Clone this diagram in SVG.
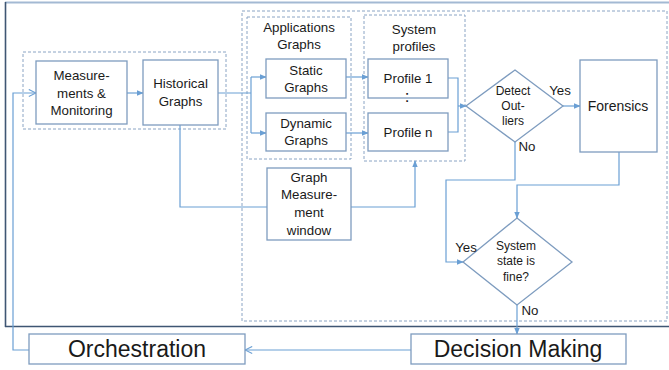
<svg xmlns="http://www.w3.org/2000/svg" width="669" height="370" viewBox="0 0 669 370">
<style>
.box{fill:#fff;stroke:#7e9cbf;stroke-width:1.3}
.dash{fill:none;stroke:#8aa4c4;stroke-width:1;stroke-dasharray:3 2}
.con{fill:none;stroke:#6a9fd4;stroke-width:1.2}
.t{font-family:"Liberation Sans",Arial,sans-serif;font-size:13.3px;fill:#1a1a1a;text-anchor:middle}
.d{font-size:12px}
.big{font-size:23px}
</style>
<defs>
<marker id="ar" viewBox="0 0 10 10" refX="9" refY="5" markerWidth="7" markerHeight="7" markerUnits="userSpaceOnUse" orient="auto">
<path d="M0,1 L10,5 L0,9 z" fill="#6a9fd4"/>
</marker>
<marker id="open" viewBox="0 0 10 10" refX="9" refY="5" markerWidth="9" markerHeight="9" markerUnits="userSpaceOnUse" orient="auto">
<path d="M1,1 L9,5 L1,9" fill="none" stroke="#6a9fd4" stroke-width="1.2"/>
</marker>
</defs>
<rect width="669" height="370" fill="#fff"/>
<g id="frame">
<line x1="5" y1="2.5" x2="669" y2="2.5" stroke="#a3b9d3" stroke-width="2"/>
<line x1="5.5" y1="2" x2="5.5" y2="327" stroke="#3f5673" stroke-width="1.6"/>
<line x1="5" y1="326.5" x2="669" y2="326.5" stroke="#3f5673" stroke-width="1.6"/>
<rect class="dash" x="23" y="52" width="203" height="77"/>
<rect class="dash" x="242" y="11" width="425" height="310"/>
<rect class="dash" x="247" y="17" width="104" height="142"/>
<rect class="dash" x="364" y="15" width="101" height="146"/>
</g>
<g id="connectors">
<path class="con" d="M29,350 H13 V93 H36" marker-end="url(#open)"/>
<path class="con" d="M127,93 H143" marker-end="url(#ar)"/>
<path class="con" d="M218,93 H251"/>
<path class="con" d="M251,77 V133"/>
<path class="con" d="M251,77 H266" marker-end="url(#ar)"/>
<path class="con" d="M251,133 H266" marker-end="url(#ar)"/>
<path class="con" d="M346,77 H368" marker-end="url(#ar)"/>
<path class="con" d="M346,133 H368" marker-end="url(#ar)"/>
<path class="con" d="M448,78 H458 V132 H448"/>
<path class="con" d="M458,106 H466" marker-end="url(#ar)"/>
<path class="con" d="M563,106 H580" marker-end="url(#ar)"/>
<path class="con" d="M180,125 V207 H267"/>
<path class="con" d="M351,207 H415 V161" marker-end="url(#ar)"/>
<path class="con" d="M619,152 V185 H517 V218" marker-end="url(#ar)"/>
<path class="con" d="M515,142 V180 H446 V262 H463" marker-end="url(#ar)"/>
<path class="con" d="M517,305 V334" marker-end="url(#ar)"/>
<path class="con" d="M411,350 H245" marker-end="url(#open)"/>
</g>
<g id="measurements">
<rect class="box" x="36" y="61" width="91" height="63"/>
<text class="t" x="81.5" y="80">Measure-</text>
<text class="t" x="81.5" y="98">ments &amp;</text>
<text class="t" x="81.5" y="115">Monitoring</text>
</g>
<g id="historical">
<rect class="box" x="143" y="60" width="75" height="65"/>
<text class="t" x="180.5" y="88">Historical</text>
<text class="t" x="180.5" y="106">Graphs</text>
</g>
<g id="appgraphs">
<text class="t" x="299" y="32">Applications</text>
<text class="t" x="299" y="49">Graphs</text>
</g>
<g id="static">
<rect class="box" x="266" y="59" width="80" height="39"/>
<text class="t" x="306" y="75">Static</text>
<text class="t" x="306" y="92">Graphs</text>
</g>
<g id="dynamic">
<rect class="box" x="266" y="113" width="80" height="38"/>
<text class="t" x="306" y="128">Dynamic</text>
<text class="t" x="306" y="145">Graphs</text>
</g>
<g id="sysprofiles">
<text class="t" x="414" y="34">System</text>
<text class="t" x="414" y="51">profiles</text>
</g>
<g id="profile1">
<rect class="box" x="368" y="59" width="80" height="39"/>
<text class="t" x="408" y="83">Profile 1</text>
<text class="t" x="407" y="102" style="font-size:17px">:</text>
</g>
<g id="profilen">
<rect class="box" x="368" y="113" width="80" height="38"/>
<text class="t" x="408" y="137">Profile n</text>
</g>
<g id="gmw">
<rect class="box" x="267" y="168" width="84" height="72"/>
<text class="t" x="309" y="182">Graph</text>
<text class="t" x="309" y="199">Measure-</text>
<text class="t" x="309" y="217">ment</text>
<text class="t" x="309" y="235">window</text>
</g>
<g id="detect">
<polygon class="box" points="515,70 563,106 515,142 466,106"/>
<text class="t d" x="513" y="95">Detect</text>
<text class="t d" x="513" y="110">Out-</text>
<text class="t d" x="513" y="125">liers</text>
<text class="t" x="560" y="95">Yes</text>
<text class="t" x="527" y="151">No</text>
</g>
<g id="forensics">
<rect class="box" x="580" y="60" width="77" height="92"/>
<text class="t" x="618" y="111" style="font-size:14px">Forensics</text>
</g>
<g id="statefine">
<polygon class="box" points="517,218 572,262 517,305 463,262"/>
<text class="t d" x="516" y="250">System</text>
<text class="t d" x="516" y="265">state is</text>
<text class="t d" x="516" y="281">fine?</text>
<text class="t" x="466" y="252">Yes</text>
<text class="t" x="530" y="315">No</text>
</g>
<g id="orchestration">
<rect class="box" x="29" y="334" width="216" height="30"/>
<text class="t big" x="137" y="357">Orchestration</text>
</g>
<g id="decision">
<rect class="box" x="411" y="334" width="215" height="30"/>
<text class="t big" x="518" y="357">Decision Making</text>
</g>
</svg>
